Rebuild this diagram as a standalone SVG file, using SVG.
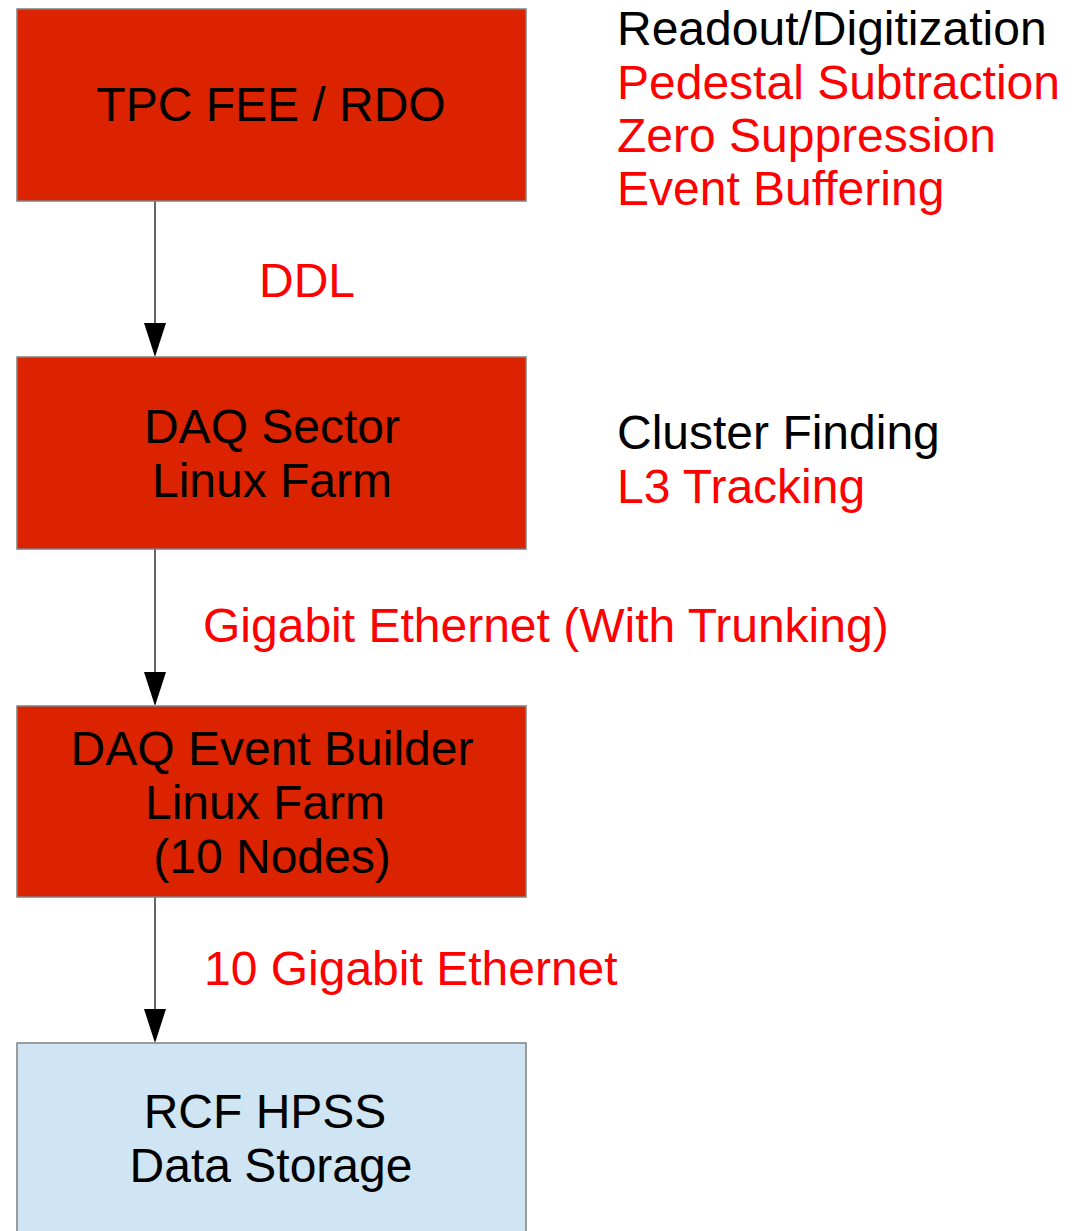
<svg xmlns="http://www.w3.org/2000/svg" width="1072" height="1231" viewBox="0 0 1072 1231">
<style>
text{font-family:"Liberation Sans",Arial,sans-serif;font-size:48px}
.b{fill:#000}
.r{fill:#ff0000}
.c{text-anchor:middle}
.red{fill:#dc2300;stroke:#808080;stroke-width:1.5}
.blue{fill:#cfe5f3;stroke:#808080;stroke-width:1.5}
.edge{stroke:#333;stroke-width:1.5;fill:none}
.head{fill:#000}
</style>
<rect width="1072" height="1231" fill="#fff"/>
<g id="connectors">
<line class="edge" x1="155" y1="201" x2="155" y2="323"/>
<path class="head" d="M144,323 L166,323 L155,357 Z"/>
<line class="edge" x1="155" y1="549" x2="155" y2="672"/>
<path class="head" d="M144,672 L166,672 L155,706 Z"/>
<line class="edge" x1="155" y1="897" x2="155" y2="1009"/>
<path class="head" d="M144,1009 L166,1009 L155,1043 Z"/>
<text class="r" x="259" y="297">DDL</text>
<text class="r" x="203" y="642">Gigabit Ethernet (With Trunking)</text>
<text class="r" x="204" y="985">10 Gigabit Ethernet</text>
</g>
<g id="tpc">
<rect class="red" x="17" y="9" width="509" height="192"/>
<text class="b c" x="271" y="121">TPC FEE / RDO</text>
</g>
<g id="sector">
<rect class="red" x="17" y="357" width="509" height="192"/>
<text class="b c" x="272" y="443">DAQ Sector</text>
<text class="b c" x="272" y="497">Linux Farm</text>
</g>
<g id="evb">
<rect class="red" x="17" y="706" width="509" height="191"/>
<text class="b c" x="272" y="765">DAQ Event Builder</text>
<text class="b c" x="265" y="819">Linux Farm</text>
<text class="b c" x="272" y="873">(10 Nodes)</text>
</g>
<g id="hpss">
<rect class="blue" x="17" y="1043" width="509" height="200"/>
<text class="b c" x="265" y="1128">RCF HPSS</text>
<text class="b c" x="271" y="1182">Data Storage</text>
</g>
<g id="notes1">
<text class="b" x="617" y="45">Readout/Digitization</text>
<text class="r" x="617" y="99">Pedestal Subtraction</text>
<text class="r" x="617" y="152">Zero Suppression</text>
<text class="r" x="617" y="205">Event Buffering</text>
</g>
<g id="notes2">
<text class="b" x="617" y="449">Cluster Finding</text>
<text class="r" x="617" y="503">L3 Tracking</text>
</g>
</svg>
